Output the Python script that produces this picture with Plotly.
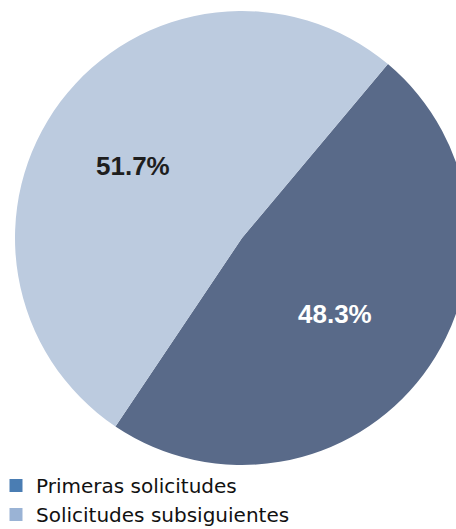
import plotly.graph_objects as go

# Share of applications by type
categories = ["Primeras solicitudes", "Solicitudes subsiguientes"]
shares = [48.3, 51.7]

slice_colors = ["#596a89", "#bccbdf"]
legend_colors = ["#4a7db3", "#9ab3d5"]
label_colors = ["#ffffff", "#1e1e1e"]
# Percentage label centres (px) for each slice
label_pos_px = [(335, 314), (133, 166)]

W, H = 470, 529

fig = go.Figure()

fig.add_trace(go.Pie(
    labels=categories,
    values=shares,
    sort=False,
    direction="clockwise",
    rotation=40,
    marker=dict(colors=slice_colors, line=dict(width=0)),
    textinfo="none",
    hoverinfo="label+percent",
    showlegend=False,
    domain=dict(x=[15 / W, 469 / W], y=[1 - 465 / H, 1 - 11 / H]),
))

# Percentage labels, written from the same values as the slices
total = sum(shares)
for v, col, (px, py) in zip(shares, label_colors, label_pos_px):
    fig.add_annotation(
        x=px / W, y=1 - py / H, xref="paper", yref="paper",
        xanchor="center", yanchor="middle",
        text=f"{100 * v / total:.1f}%", showarrow=False,
        font=dict(family="Liberation Sans", size=26, color=col, weight="bold"),
    )

# Legend entries with their own swatch colours
for name, col in zip(categories, legend_colors):
    fig.add_trace(go.Scatter(
        x=[None], y=[None], mode="markers", name=name,
        marker=dict(symbol="square", size=13, color=col),
    ))

fig.update_layout(
    width=W, height=H,
    margin=dict(l=0, r=0, t=0, b=0, autoexpand=False),
    paper_bgcolor="white",
    plot_bgcolor="white",
    xaxis=dict(visible=False),
    yaxis=dict(visible=False),
    legend=dict(
        x=-4 / W, y=-5 / H, xanchor="left", yanchor="bottom",
        orientation="v",
        font=dict(family="DejaVu Sans", size=20, color="#111111"),
        bgcolor="rgba(0,0,0,0)",
        itemwidth=30,
        tracegroupgap=0,
    ),
    font=dict(family="DejaVu Sans"),
)

fig.write_html(
    "out.html",
    post_script="document.body.style.overflow='hidden';document.documentElement.style.overflow='hidden';",
)
